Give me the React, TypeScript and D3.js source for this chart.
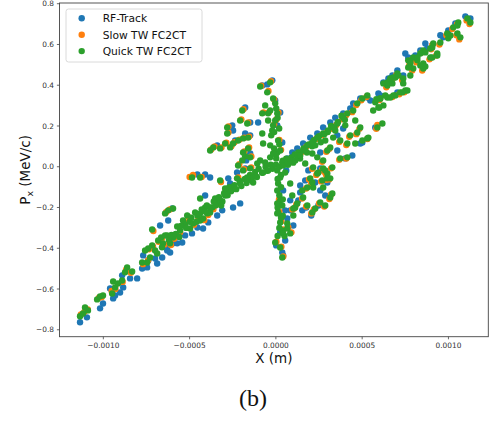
import React from "react";
import * as d3 from "d3";

const seriesNames = ["RF-Track", "Slow TW FC2CT", "Quick TW FC2CT"];
const seriesColors = ["#1f77b4", "#ff7f0e", "#2ca02c"];
const xTicks = [-0.001, -0.0005, 0, 0.0005, 0.001];
const yTicks = [-0.8, -0.6, -0.4, -0.2, 0.0, 0.2, 0.4, 0.6, 0.8];

// RF-Track (blue)
const rfTrack: [number, number][] = [
  [-0.001135, -0.763], [-0.001095, -0.739], [-0.001019, -0.695], [-0.001002, -0.671], [-0.000961, -0.597],
  [-0.000932, -0.632], [-0.000903, -0.617], [-0.000943, -0.646], [-0.000885, -0.592], [-0.000845, -0.548],
  [-0.000804, -0.548], [-0.000891, -0.533], [-0.000775, -0.499], [-0.000746, -0.494], [-0.000769, -0.435],
  [-0.00074, -0.46], [-0.000688, -0.475], [-0.000659, -0.445], [-0.00063, -0.396], [-0.000613, -0.421],
  [-0.000572, -0.376], [-0.0007, -0.45], [-0.00063, -0.411], [-0.000596, -0.376], [-0.000543, -0.372],
  [-0.000526, -0.337], [-0.000486, -0.327], [-0.000455, -0.298], [-0.000422, -0.303], [-0.000392, -0.273],
  [-0.00034, -0.239], [-0.000311, -0.214], [-0.000248, -0.2], [-0.000207, -0.18], [-0.000601, -0.205],
  [-0.000671, -0.288], [-0.000624, -0.264],
  [-0.000178, 0.291], [-0.000149, 0.217], [-0.000103, 0.217], [-0.000253, 0.203], [-0.000248, 0.178],
  [-0.00034, 0.105], [-0.000236, 0.129], [-0.000178, 0.163], [-0.000149, 0.154], [-0.000455, -0.038],
  [-0.00041, -0.038], [-0.00041, -0.141], [-0.000381, -0.053], [-0.000225, -0.028], [-0.000149, 0.065],
  [-0.000172, 0.031], [-0.00005, 0.404], [-0.000079, 0.399], [-0.000021, 0.424], [-0.000178, -0.008],
  [-0.000265, -0.082], [-0.000276, -0.057],
  [-0.000004, 0.325], [0.000025, 0.266], [0.000008, 0.203], [0.000037, 0.119], [0.00006, -0.018],
  [0.000042, -0.116], [0.000054, -0.214], [0.000066, -0.254], [0.000025, -0.322], [0.000054, -0.362],
  [0.000037, -0.421], [0.000042, -0.435], [0.000002, -0.386], [0.000083, -0.165], [0.000101, -0.288],
  [0.000141, -0.092],
  [0.000188, -0.018], [0.000257, -0.008], [0.00017, -0.067], [0.000228, -0.077], [0.000298, -0.077],
  [0.000141, -0.126], [0.000257, -0.116], [0.00013, -0.165], [0.000083, -0.214], [0.000176, -0.2],
  [0.000246, -0.19], [0.000205, -0.239], [0.000153, -0.214], [0.000286, -0.141], [0.000402, 0.041],
  [0.000501, 0.119], [0.000443, 0.055],
  [0.001098, 0.738], [0.001127, 0.728], [0.00104, 0.703], [0.000999, 0.669], [0.00097, 0.635],
  [0.000953, 0.645], [0.000906, 0.595], [0.000877, 0.58], [0.000866, 0.605], [0.000837, 0.571],
  [0.000767, 0.536], [0.00075, 0.556], [0.000808, 0.546], [0.000704, 0.473], [0.000675, 0.448],
  [0.000652, 0.433], [0.000623, 0.414], [0.000738, 0.448], [0.000605, 0.35], [0.000594, 0.36],
  [0.000547, 0.325], [0.00053, 0.34], [0.000489, 0.335], [0.000448, 0.311], [0.000431, 0.286],
  [0.00039, 0.262], [0.000344, 0.241], [0.000315, 0.217], [0.000274, 0.193], [0.00024, 0.163],
  [0.000199, 0.143], [0.000158, 0.114], [0.000124, 0.09], [0.000095, 0.07], [0.000066, 0.041],
  [0.000576, 0.193], [0.000704, 0.365], [0.00039, 0.188], [0.000356, 0.154], [0.000257, 0.07],
  [0.000356, 0.08], [0.000489, 0.114],
];

// Slow TW FC2CT (orange)
const slowTW: [number, number][] = [
  [-0.00113, -0.725], [-0.00111, -0.712], [-0.00109, -0.7], [-0.001025, -0.643], [-0.00101, -0.64],
  [-0.000952, -0.61], [-0.00093, -0.6], [-0.000888, -0.565], [-0.000868, -0.505], [-0.00084, -0.52],
  [-0.00077, -0.478], [-0.00074, -0.458], [-0.000735, -0.405], [-0.000712, -0.392], [-0.00068, -0.368],
  [-0.00066, -0.352], [-0.000608, -0.384], [-0.00059, -0.353], [-0.00071, -0.315], [-0.000645, -0.382],
  [-0.000555, -0.322], [-0.00053, -0.272], [-0.000508, -0.246], [-0.000474, -0.285], [-0.00045, -0.247],
  [-0.000415, -0.262], [-0.000392, -0.237], [-0.000362, -0.208], [-0.000335, -0.183], [-0.000635, -0.222],
  [-0.000615, -0.21], [-0.0005, -0.05], [-0.00048, -0.04], [-0.00043, -0.05], [-0.000318, -0.075],
  [-0.00029, -0.112],
  [-0.000375, 0.085], [-0.000355, 0.1], [-0.000315, 0.095], [-0.000287, 0.118], [-0.000258, 0.1],
  [-0.00024, 0.12], [-0.000212, 0.133], [-0.000183, 0.142], [-0.000155, 0.148], [-0.000275, 0.198],
  [-0.000275, 0.168], [-0.0002, 0.232], [-0.00016, 0.217], [-0.000188, 0.282], [-0.000085, 0.398],
  [-0.000043, 0.372], [-0.000028, 0.42], [-0.000072, 0.267], [-0.00004, 0.268], [-0.000183, 0.075],
  [-0.000155, 0.095], [-0.000142, 0.05], [-0.000212, 0.012], [-0.000185, -0.012], [-0.000143, -0.003],
  [-0.000218, -0.052], [-0.00016, -0.062],
  [-0.00001, 0.33], [0.000015, 0.266], [0.000003, 0.232], [-0.00001, 0.208], [0.00002, 0.132],
  [0.00003, 0.083], [0.000043, 0.025], [0.000018, -0.16], [0.00002, -0.22], [0.000032, -0.268],
  [0.000043, -0.308], [0.000072, -0.298], [0.000003, -0.368], [0.000032, -0.392], [0.000043, -0.44],
  [0.00009, -0.322],
  [0.00021, -0.01], [0.000268, -0.013], [0.00032, -0.008], [0.00029, -0.038], [0.00024, -0.033],
  [0.000192, -0.062], [0.000262, -0.072], [0.000308, -0.062], [0.000175, -0.107], [0.00032, -0.136],
  [0.000152, -0.156], [0.000106, -0.205], [0.00022, -0.21], [0.000118, -0.185], [0.000095, -0.21],
  [0.000175, -0.195], [0.000205, -0.229], [0.00025, -0.18], [0.00028, -0.195],
  [0.001105, 0.718], [0.001122, 0.7], [0.00105, 0.7], [0.001022, 0.676], [0.001046, 0.645],
  [0.001063, 0.625], [0.000988, 0.645], [0.000948, 0.6], [0.000906, 0.596], [0.0009, 0.576],
  [0.000929, 0.546], [0.00089, 0.527], [0.000848, 0.562], [0.00079, 0.527], [0.000815, 0.512],
  [0.000773, 0.498], [0.00079, 0.472], [0.000848, 0.472], [0.000698, 0.45], [0.000675, 0.43],
  [0.00064, 0.39], [0.000732, 0.425], [0.000744, 0.365], [0.000715, 0.356], [0.000675, 0.342],
  [0.0006, 0.327], [0.000525, 0.342], [0.000495, 0.326], [0.000466, 0.303], [0.000442, 0.268],
  [0.000408, 0.254], [0.000384, 0.233], [0.00035, 0.205], [0.000326, 0.186], [0.000297, 0.17],
  [0.000268, 0.156], [0.000234, 0.136], [0.000205, 0.112], [0.000176, 0.098], [0.000152, 0.073],
  [0.000588, 0.205], [0.000582, 0.186], [0.000484, 0.186], [0.000466, 0.16], [0.000425, 0.147],
  [0.00053, 0.136], [0.000408, 0.107], [0.000367, 0.122], [0.00031, 0.088], [0.000408, 0.04],
  [0.000367, 0.034], [0.000292, 0.073], [0.000268, 0.024], [0.000234, -0.04], [0.00028, -0.025],
  [0.000292, -0.064], [0.000205, -0.084], [0.00031, -0.158],
];

// Quick TW FC2CT (green)
const quickTW: [number, number][] = [
  [-0.001135, -0.734], [-0.001118, -0.72], [-0.001106, -0.691], [-0.001089, -0.705], [-0.001036, -0.651],
  [-0.001019, -0.636], [-0.001002, -0.632], [-0.000949, -0.622], [-0.000932, -0.592], [-0.000943, -0.563],
  [-0.000915, -0.573], [-0.000891, -0.558], [-0.000874, -0.518], [-0.000862, -0.494], [-0.000833, -0.514],
  [-0.000775, -0.47], [-0.000746, -0.47], [-0.000729, -0.445], [-0.00074, -0.401], [-0.000717, -0.386],
  [-0.000688, -0.426], [-0.000682, -0.362], [-0.000665, -0.347], [-0.000642, -0.337], [-0.000613, -0.376],
  [-0.000596, -0.347], [-0.000717, -0.308], [-0.000758, -0.411], [-0.0007, -0.411], [-0.000654, -0.376],
  [-0.00063, -0.337], [-0.000555, -0.313], [-0.000538, -0.264], [-0.000514, -0.239], [-0.00048, -0.278],
  [-0.000455, -0.239], [-0.000439, -0.264], [-0.000422, -0.254], [-0.000398, -0.229], [-0.000369, -0.2],
  [-0.00034, -0.175], [-0.000642, -0.229], [-0.000624, -0.214], [-0.000596, -0.205], [-0.000572, -0.293],
  [-0.000497, -0.303], [-0.000526, -0.283], [-0.000468, -0.224], [-0.00041, -0.2], [-0.000381, -0.224],
  [-0.000323, -0.165], [-0.000294, -0.141], [-0.000276, -0.116], [-0.000253, -0.102], [-0.000317, -0.19],
  [-0.000352, -0.156], [-0.000486, -0.053], [-0.000439, -0.053], [-0.000439, -0.156],
  [-0.00066, -0.395], [-0.00062, -0.36], [-0.000605, -0.335], [-0.00058, -0.33], [-0.00056, -0.345],
  [-0.00055, -0.29], [-0.00052, -0.3], [-0.0005, -0.27], [-0.00049, -0.25], [-0.00046, -0.27],
  [-0.00044, -0.23], [-0.00043, -0.21], [-0.00041, -0.22], [-0.0004, -0.19], [-0.00038, -0.2],
  [-0.00036, -0.17], [-0.00035, -0.19], [-0.00033, -0.15], [-0.00031, -0.17], [-0.0003, -0.13],
  [-0.00028, -0.14], [-0.00027, -0.1], [-0.00026, -0.12], [-0.00024, -0.09], [-0.00023, -0.11],
  [-0.00021, -0.07], [-0.0002, -0.095], [-0.00018, -0.06], [-0.00017, -0.08], [-0.00015, -0.04],
  [-0.00014, -0.06], [-0.00012, -0.025], [-0.00011, -0.05], [-0.0001, -0.01], [-0.00008, -0.03],
  [-0.00006, 0.0], [-0.00005, -0.02], [-0.00003, 0.01], [-0.00002, -0.01], [0.0, 0.01],
  [0.00002, 0.0], [0.00004, 0.03], [0.00006, 0.04], [0.00007, 0.01], [0.00009, 0.045],
  [0.0001, 0.02], [0.00011, 0.06], [0.00013, 0.07], [0.00014, 0.04], [0.00016, 0.09],
  [0.00018, 0.07], [0.00019, 0.11], [0.00021, 0.1], [0.00022, 0.13], [0.00025, 0.15],
  [0.00026, 0.12], [0.00028, 0.16], [0.0003, 0.17], [0.00032, 0.2], [0.00034, 0.19],
  [0.00036, 0.22], [0.00038, 0.25], [0.0004, 0.23],
  [-0.000381, 0.08], [-0.000363, 0.095], [-0.000323, 0.09], [-0.000294, 0.114], [-0.000265, 0.095],
  [-0.000248, 0.114], [-0.000219, 0.129], [-0.00019, 0.139], [-0.000161, 0.143], [-0.000282, 0.193],
  [-0.000282, 0.163], [-0.000207, 0.227], [-0.000166, 0.212], [-0.000195, 0.276], [-0.000091, 0.394],
  [-0.00005, 0.365], [-0.000033, 0.414], [-0.000079, 0.262], [-0.000045, 0.262], [-0.000079, 0.163],
  [-0.000074, 0.114], [-0.00019, 0.07], [-0.000161, 0.09], [-0.000149, 0.046], [-0.000178, 0.051],
  [-0.000219, 0.006], [-0.000195, 0.031], [-0.00019, -0.018], [-0.000149, -0.008], [-0.000323, -0.067],
  [-0.000294, -0.107], [-0.000225, -0.057], [-0.000166, -0.067], [-0.000091, 0.031], [-0.000062, 0.021],
  [-0.000062, 0.301], [-0.000016, 0.335], [-0.000004, 0.311], [0.000008, 0.262], [-0.000004, 0.227],
  [-0.000033, 0.276], [-0.000016, 0.203], [-0.000027, 0.154], [0.000013, 0.129], [-0.00001, 0.09],
  [0.000025, 0.08], [0.000002, 0.041], [0.000037, 0.021], [-0.000021, 0.178], [0.000019, 0.188],
  [-0.000045, 0.227], [0.000002, 0.286], [-0.000033, 0.105], [0.000008, 0.07],
  [0.00001, 0.24], [-0.00001, 0.17], [0.00002, 0.11], [0.0, 0.06], [0.00003, -0.04],
  [0.00001, -0.06], [0.00003, -0.1], [0.00002, -0.14], [0.00004, -0.16], [0.00001, -0.2],
  [0.00003, -0.25], [0.00004, -0.24], [0.00002, -0.3], [0.00005, -0.34], [0.00001, -0.34],
  [-0.000033, 0.046], [-0.000016, 0.065], [-0.000108, 0.016], [0.000008, -0.018], [0.000013, -0.082],
  [0.000042, 0.006], [0.000066, 0.021], [0.000083, 0.031], [0.000054, -0.028], [0.000025, -0.053],
  [-0.000045, -0.018], [-0.000074, -0.028], [-0.000132, -0.077], [-0.000207, -0.082], [-0.000166, -0.053],
  [-0.00012, -0.043], [0.000083, -0.082], [0.000095, -0.141],
  [0.000025, -0.165], [0.000013, -0.224], [0.000025, -0.273], [0.000037, -0.313], [0.000066, -0.303],
  [-0.000004, -0.372], [0.000025, -0.396], [0.000037, -0.445], [0.000008, -0.18], [0.000008, -0.229],
  [0.000042, -0.327], [0.000083, -0.327], [0.000066, -0.278], [0.000008, -0.116], [0.000037, -0.19],
  [0.000101, -0.205], [0.000101, -0.239], [0.000182, -0.19], [0.000211, -0.224], [0.000257, -0.175],
  [0.000286, -0.19], [0.000216, -0.102], [0.000274, -0.102],
  [0.000216, -0.003], [0.000274, -0.008], [0.000327, -0.003], [0.000298, -0.033], [0.000246, -0.028],
  [0.000199, -0.057], [0.000269, -0.067], [0.000315, -0.057], [0.000182, -0.102], [0.000327, -0.131],
  [0.000158, -0.151], [0.000112, -0.2], [0.000228, -0.205], [0.000124, -0.18],
  [0.00111, 0.728], [0.001127, 0.708], [0.001057, 0.708], [0.001028, 0.684], [0.001052, 0.654],
  [0.001069, 0.635], [0.000993, 0.654], [0.000999, 0.63], [0.000953, 0.61], [0.000912, 0.605],
  [0.000906, 0.585], [0.000935, 0.556], [0.000895, 0.536], [0.000854, 0.571], [0.000837, 0.556],
  [0.000796, 0.536], [0.00082, 0.522], [0.000779, 0.507], [0.000796, 0.482], [0.000854, 0.482],
  [0.000767, 0.522], [0.000704, 0.458], [0.000681, 0.438], [0.000663, 0.424], [0.000646, 0.399],
  [0.000623, 0.409], [0.000738, 0.433], [0.00075, 0.374], [0.000721, 0.365], [0.000681, 0.35],
  [0.000646, 0.34], [0.000605, 0.335], [0.00053, 0.35], [0.000501, 0.335], [0.000472, 0.311],
  [0.000448, 0.276], [0.000414, 0.262], [0.00039, 0.241], [0.000356, 0.212], [0.000332, 0.193],
  [0.000303, 0.178], [0.000274, 0.163], [0.00024, 0.143], [0.000211, 0.119], [0.000182, 0.105],
  [0.000158, 0.08], [0.000124, 0.055], [0.000594, 0.291], [0.000617, 0.212], [0.000588, 0.193],
  [0.000489, 0.193], [0.000472, 0.168], [0.000431, 0.154], [0.000536, 0.143], [0.000414, 0.114],
  [0.000373, 0.129], [0.000332, 0.143], [0.000315, 0.095], [0.000414, 0.046], [0.000373, 0.041],
  [0.000298, 0.08], [0.000274, 0.031], [0.00024, 0.046], [0.000211, 0.065], [0.00017, 0.016],
  [0.00024, -0.033], [0.000286, -0.018], [0.000298, -0.057], [0.000211, -0.077], [0.000153, -0.116],
  [0.000315, -0.151], [0.00046, 0.227], [0.000402, 0.203], [0.000344, 0.178], [0.000286, 0.129],
  [0.000228, 0.105], [0.00017, 0.08], [0.000112, 0.031], [0.000141, 0.055], [0.000501, 0.129],
  [0.00053, 0.139], [0.00046, 0.114], [0.000779, 0.517], [0.000767, 0.487], [0.000779, 0.448],
  [0.000738, 0.409], [0.000762, 0.374], [0.000733, 0.365], [0.000692, 0.35], [0.000663, 0.34],
  [0.000634, 0.35], [0.000605, 0.335], [0.000576, 0.316], [0.000564, 0.276], [0.000623, 0.301],
  [0.000599, 0.291], [0.000582, 0.331], [0.000866, 0.561], [0.000906, 0.536], [0.000935, 0.546],
  [0.000895, 0.58], [0.001011, 0.644], [0.001052, 0.693], [0.000646, 0.414], [0.000663, 0.433],
  [0.000692, 0.438], [0.00071, 0.448], [0.000675, 0.409], [0.00082, 0.536], [0.000854, 0.507],
  [0.000837, 0.497], [0.000866, 0.492],
];

const seriesData = [rfTrack, slowTW, quickTW];

const W = 491;
const H = 421;
const plot = { left: 59.5, right: 488.3, top: 3, bottom: 336.7 };

const fmtX = (v: number) => d3.format(".4f")(v).replace("-", "\u2212");
const fmtY = (v: number) => d3.format(".1f")(v).replace("-", "\u2212");

export default function App() {
  const x = d3.scaleLinear().domain([-0.001254, 0.001231]).range([plot.left, plot.right]);
  const y = d3.scaleLinear().domain([-0.834, 0.8035]).range([plot.bottom, plot.top]);
  const font = "'DejaVu Sans', sans-serif";
  const tickColor = "#333";
  const r = 3.2;

  return (
    <svg width={W} height={H} style={{ position: "absolute", left: 0, top: 0, background: "#fff" }}>
      <rect x={0} y={0} width={W} height={H} fill="#fff" />
      <defs>
        <clipPath id="plotclip">
          <rect x={plot.left} y={plot.top} width={plot.right - plot.left} height={plot.bottom - plot.top} />
        </clipPath>
      </defs>
      <g clipPath="url(#plotclip)">
        {seriesData.map((pts, si) => (
          <g key={si} fill={seriesColors[si]}>
            {pts.map((p, i) => (
              <circle key={i} cx={x(p[0])} cy={y(p[1])} r={r} />
            ))}
          </g>
        ))}
      </g>
      <rect
        x={plot.left}
        y={plot.top}
        width={plot.right - plot.left}
        height={plot.bottom - plot.top}
        fill="none"
        stroke="#444"
        strokeWidth={0.9}
      />
      {xTicks.map((t, i) => (
        <g key={"xt" + i}>
          <line x1={x(t)} x2={x(t)} y1={plot.bottom} y2={plot.bottom + 2.6} stroke="#444" strokeWidth={0.8} />
          <text x={x(t)} y={plot.bottom + 11.5} fontSize={7.4} fontFamily={font} fill={tickColor} textAnchor="middle">
            {fmtX(t)}
          </text>
        </g>
      ))}
      {yTicks.map((t, i) => (
        <g key={"yt" + i}>
          <line x1={plot.left - 2.6} x2={plot.left} y1={y(t)} y2={y(t)} stroke="#444" strokeWidth={0.8} />
          <text x={plot.left - 5.5} y={y(t) + 2.7} fontSize={7.4} fontFamily={font} fill={tickColor} textAnchor="end">
            {fmtY(t)}
          </text>
        </g>
      ))}
      <text x={(plot.left + plot.right) / 2} y={363} fontSize={13.5} fontFamily={font} fill="#111" textAnchor="middle">
        X (m)
      </text>
      <text
        transform={`translate(30,${(plot.top + plot.bottom) / 2}) rotate(-90)`}
        fontSize={13.5}
        fontFamily={font}
        fill="#111"
        textAnchor="middle"
      >
        P<tspan fontSize={9.5} dy={3}>x</tspan>
        <tspan dy={-3}> (MeV/c)</tspan>
      </text>
      <g>
        <rect x={66} y={9} width={136} height={53} rx={2.5} fill="#fff" fillOpacity={0.8} stroke="#d0d0d0" strokeWidth={0.8} />
        {seriesNames.map((name, i) => {
          const yy = 18.3 + i * 16.4;
          return (
            <g key={name}>
              <circle cx={81.7} cy={yy} r={r} fill={seriesColors[i]} />
              <text x={102.7} y={yy + 3.8} fontSize={10.7} fontFamily={font} fill="#111">
                {name}
              </text>
            </g>
          );
        })}
      </g>
      <text x={253} y={406} fontSize={24} fontFamily="'Liberation Serif', 'DejaVu Serif', serif" fill="#111" textAnchor="middle">
        (b)
      </text>
    </svg>
  );
}
